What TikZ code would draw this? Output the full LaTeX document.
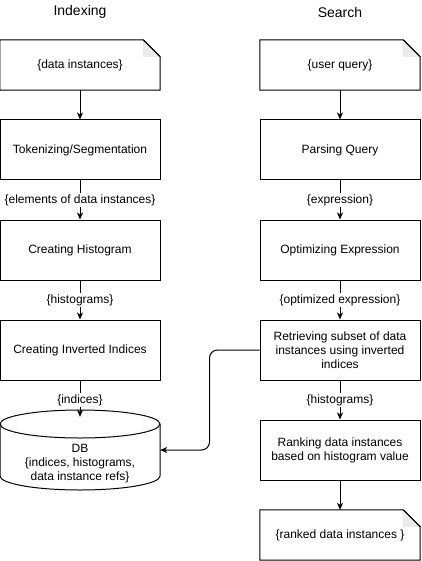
\documentclass[tikz,border=0pt]{standalone}
\usepackage{fontspec}
\setmainfont{Liberation Sans}
\usetikzlibrary{arrows.meta,calc}
\definecolor{foldgray}{HTML}{EBEBEB}
\tikzset{
  x=1pt,y=-1pt,
  every node/.style={font=\fontsize{12}{14}\selectfont,text=black},
  procbox/.style={draw,line width=1pt,minimum width=160pt,minimum height=60pt,inner sep=2pt,align=center},
  notebox/.style={minimum width=160pt,minimum height=50pt,inner sep=2pt,align=center},
  titletext/.style={font=\fontsize{14}{16}\selectfont},
  edgelabel/.style={fill=white,inner sep=1pt},
  flow/.style={line width=1pt,-{Stealth[length=7pt,width=6pt,inset=2pt]}},
}
\newcommand{\drawnote}[1]{%
  \draw[line width=1pt,fill=white] (#1.north west) -- ($(#1.north east)+(-17,0)$) -- ($(#1.north east)+(0,17)$) -- (#1.south east) -- (#1.south west) -- cycle;
  \fill[foldgray] ($(#1.north east)+(-17,0)$) -- ($(#1.north east)+(-17,17)$) -- ($(#1.north east)+(0,17)$) -- cycle;
  \draw[line width=1pt] ($(#1.north east)+(-17,0)$) -- ($(#1.north east)+(0,17)$);
}
\begin{document}
\begin{tikzpicture}
\useasboundingbox (0,0) rectangle (421,561);
% titles
\node[titletext] (t1) at (80,12) {Indexing};
\node[titletext] (t2) at (340,12) {Search};
% left column
\node[notebox] (din) at (80,65) {};
\drawnote{din}
\node at (din) {\{data instances\}};
\node[procbox] (tok) at (80,150) {Tokenizing/Segmentation};
\node[procbox] (hist) at (80,250) {Creating Histogram};
\node[procbox] (inv) at (80,350) {Creating Inverted Indices};
% DB cylinder
\node[minimum width=160pt,minimum height=80pt,inner sep=0pt] (db) at (80,450) {};
\draw[line width=1pt,fill=white] (0,424) -- (0,476) arc[start angle=180,end angle=0,x radius=80,y radius=14] -- (160,424);
\draw[line width=1pt] (80,424) ellipse[x radius=80,y radius=14];
\node[align=center] (dbt) at (80,464) {DB\\\{indices, histograms,\\data instance refs\}};
% right column
\node[notebox] (uq) at (340,65) {};
\drawnote{uq}
\node at (uq) {\{user query\}};
\node[procbox] (parse) at (340,150) {Parsing Query};
\node[procbox] (opt) at (340,250) {Optimizing Expression};
\node[procbox] (ret) at (340,350) {Retrieving subset of data\\instances using inverted\\indices};
\node[procbox] (rank) at (340,450) {Ranking data instances\\based on histogram value};
\node[notebox] (rk) at (340,535) {};
\drawnote{rk}
\node at (rk) {\{ranked data instances \}};
% left connectors
\draw[flow] (din.south) -- (tok.north);
\draw[flow] (tok.south) -- (hist.north) node[edgelabel,pos=0.5] {\{elements of data instances\}};
\draw[flow] (hist.south) -- (inv.north) node[edgelabel,pos=0.5] {\{histograms\}};
\draw[flow] (inv.south) -- ($(db.north)+(0,7)$);
\node[edgelabel] (l3) at (80,400) {\{indices\}};
% right connectors
\draw[flow] (uq.south) -- (parse.north);
\draw[flow] (parse.south) -- (opt.north) node[edgelabel,pos=0.5] {\{expression\}};
\draw[flow] (opt.south) -- (ret.north) node[edgelabel,pos=0.5] {\{optimized expression\}};
\draw[flow] (ret.south) -- (rank.north) node[edgelabel,pos=0.5] {\{histograms\}};
\draw[flow] (rank.south) -- (rk.north);
% cross connector
\draw[flow,rounded corners=8pt] (ret.west) -- ++(-50,0) |- (db.east);
\end{tikzpicture}
\end{document}
